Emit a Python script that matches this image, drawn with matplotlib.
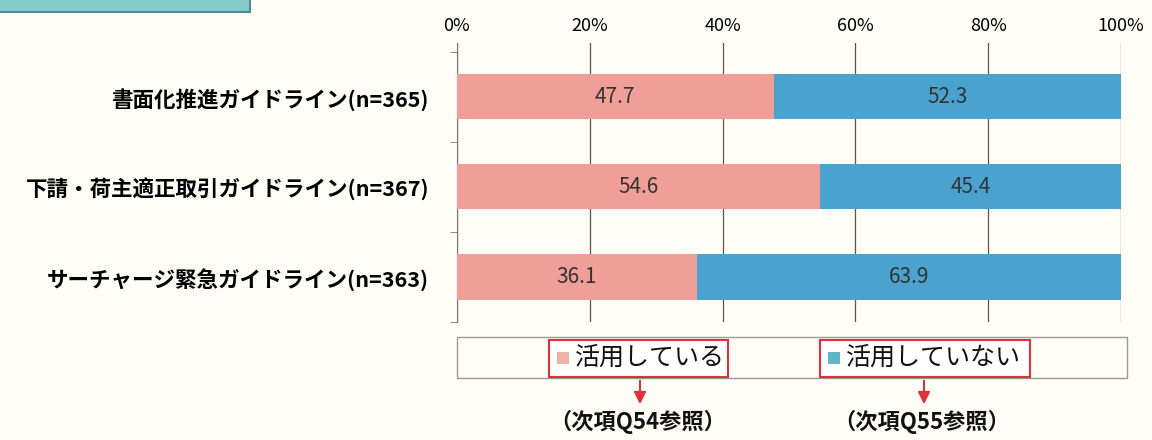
import matplotlib.pyplot as plt
import numpy as np
from matplotlib.patches import Rectangle, FancyArrowPatch

plt.rcParams["font.family"] = ["Noto Sans CJK JP", "DejaVu Sans"]

categories = [
    "書面化推進ガイドライン(n=365)",
    "下請・荷主適正取引ガイドライン(n=367)",
    "サーチャージ緊急ガイドライン(n=363)",
]
used = [47.7, 54.6, 36.1]
not_used = [52.3, 45.4, 63.9]
series_names = ["活用している", "活用していない"]
notes = ["（次項Q54参照）", "（次項Q55参照）"]
xticks = [0, 20, 40, 60, 80, 100]

W, H = 1152, 440
bg = "#fefdf6"
pink = "#ef9f98"
blue = "#4aa2cf"


def px(x, y):
    return x / W, 1 - y / H


fig = plt.figure(figsize=(W / 100, H / 100), dpi=100, facecolor=bg)
ax = fig.add_axes([457 / W, 1 - 322 / H, (1121 - 457) / W, 279 / H])
ax.set_facecolor(bg)

y = np.arange(len(categories))
ax.barh(y, used, height=0.5, color=pink, zorder=3)
ax.barh(y, not_used, left=used, height=0.5, color=blue, zorder=3)
for i in range(len(categories)):
    ax.text(used[i] / 2, y[i], f"{used[i]:.1f}", ha="center", va="center",
            fontsize=15, color="#333333", zorder=4)
    ax.text(used[i] + not_used[i] / 2, y[i], f"{not_used[i]:.1f}",
            ha="center", va="center", fontsize=15, color="#333333", zorder=4)

ax.set_xlim(0, 100)
ax.set_ylim(2.5, -0.6)
ax.set_xticks(xticks)
ax.set_xticklabels([f"{t}%" for t in xticks], fontsize=13)
ax.xaxis.tick_top()
ax.tick_params(axis="x", length=0, pad=6)
ax.grid(axis="x", color="#555555", linewidth=0.9, zorder=1)
ax.set_yticks(y)
ax.set_yticklabels(categories, fontsize=15.5, fontweight="bold")
ax.tick_params(axis="y", length=0, pad=20)
ax.set_yticks([-0.5, 0.5, 1.5, 2.5], minor=True)
ax.tick_params(axis="y", which="minor", length=5, color="#777777")
for s in ["top", "bottom", "right"]:
    ax.spines[s].set_visible(False)
ax.spines["left"].set_color("#777777")

# header box remnant
fig.patches.append(Rectangle(px(-5, 12), 255 / W, 20 / H, transform=fig.transFigure,
                             facecolor="#86cccc", edgecolor="#4b8f98", linewidth=1.5))

# legend frame
fig.patches.append(Rectangle(px(457, 378), (1127 - 457) / W, 41 / H,
                             transform=fig.transFigure, facecolor=bg,
                             edgecolor="#999999", linewidth=1))
boxes = [(549, 728), (820, 1030)]
marker_colors = ["#eeb3a6", "#5db7c8"]
for (x0, x1), name, mc in zip(boxes, series_names, marker_colors):
    fig.patches.append(Rectangle(px(x0, 377), (x1 - x0) / W, 37 / H,
                                 transform=fig.transFigure, facecolor="white",
                                 edgecolor="#e0303a", linewidth=1.5))
    fig.patches.append(Rectangle(px(x0 + 8, 364), 12 / W, 12 / H,
                                 transform=fig.transFigure, facecolor=mc,
                                 edgecolor="none"))
    fig.text(*px(x0 + 26, 358), name, fontsize=18, ha="left", va="center",
             color="#111111")

arrow_x = [640, 924]
for xa, note in zip(arrow_x, notes):
    fig.patches.append(FancyArrowPatch(px(xa, 378), px(xa, 407),
                                       transform=fig.transFigure,
                                       arrowstyle="-|>", mutation_scale=18,
                                       color="#e0303a", linewidth=1.5))
    fig.text(*px(xa - 2, 422), note, fontsize=16, fontweight="bold",
             ha="center", va="center", color="#111111")

fig.savefig("out.png", dpi=100, facecolor=bg)
